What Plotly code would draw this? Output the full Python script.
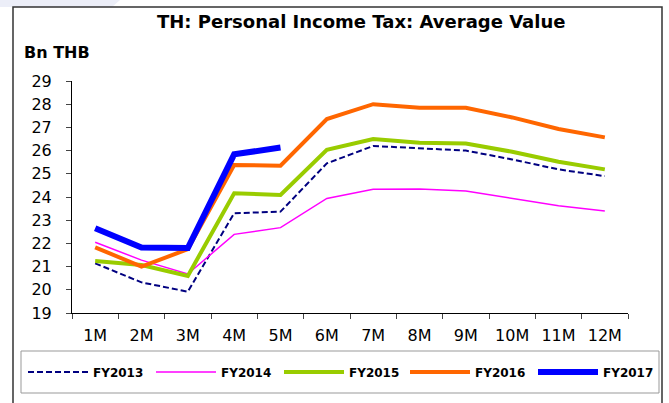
import plotly.graph_objects as go

months = ["1M", "2M", "3M", "4M", "5M", "6M", "7M", "8M", "9M", "10M", "11M", "12M"]

fy2013 = [21.14, 20.32, 19.92, 23.30, 23.37, 25.45, 26.20, 26.10, 26.00, 25.62, 25.19, 24.90]
fy2014 = [22.05, 21.28, 20.68, 22.39, 22.68, 23.94, 24.33, 24.34, 24.26, 23.94, 23.62, 23.40]
fy2015 = [21.24, 21.07, 20.60, 24.16, 24.09, 26.03, 26.50, 26.34, 26.31, 25.95, 25.52, 25.19]
fy2016 = [21.83, 21.00, 21.75, 25.38, 25.35, 27.36, 28.00, 27.85, 27.85, 27.43, 26.93, 26.57]
fy2017 = [22.65, 21.82, 21.80, 25.84, 26.13]

# name, values, colour, width, dash, legend group (split in two so one row fits)
series = [
    ("FY2013", fy2013, "#000080", 2, "6px,3px", "legend"),
    ("FY2014", fy2014, "#ff00ff", 1.5, "solid", "legend"),
    ("FY2015", fy2015, "#99cc00", 4, "solid", "legend"),
    ("FY2016", fy2016, "#ff6600", 4, "solid", "legend2"),
    ("FY2017", fy2017, "#0000ff", 6, "solid", "legend2"),
]

fig = go.Figure()
for name, vals, color, width, dash, leg in series:
    fig.add_trace(go.Scatter(
        x=months[:len(vals)], y=vals, name=name, mode="lines",
        line=dict(color=color, width=width, dash=dash), legend=leg,
    ))

font_family = "DejaVu Sans, Liberation Sans, Arial, sans-serif"

# plot area geometry in pixels (for paper-coordinate decorations)
W, H = 669, 403
ml, mr, mt, mb = 72, 41, 81, 90
pw, ph = W - ml - mr, H - mt - mb


def px(x):
    return (x - ml) / pw


def py(y):
    return (H - mb - y) / ph


shapes = [
    # faint slide decoration in the top-left corner
    dict(type="path", xref="paper", yref="paper",
         path=f"M {px(0)},{py(0)} L {px(120)},{py(0)} L {px(112)},{py(7)} L {px(0)},{py(7)} Z",
         fillcolor="#eceef8", line=dict(width=0), layer="below"),
    # outer chart frame
    dict(type="rect", xref="paper", yref="paper",
         x0=px(13), x1=px(662), y0=py(412), y1=py(7),
         line=dict(color="#333333", width=1.5), fillcolor="rgba(0,0,0,0)"),
    # legend frame
    dict(type="rect", xref="paper", yref="paper",
         x0=px(21), x1=px(659), y0=py(393), y1=py(351),
         line=dict(color="#999999", width=1), fillcolor="rgba(0,0,0,0)"),
]

legend_style = dict(
    orientation="h", yanchor="middle", y=py(372), xanchor="left",
    font=dict(size=12, family=font_family, color="black", weight="bold"),
    entrywidth=53, entrywidthmode="pixels", itemwidth=60,
    bgcolor="rgba(0,0,0,0)", traceorder="normal",
)

fig.update_layout(
    width=W, height=H,
    margin=dict(l=ml, r=mr, t=mt, b=mb, autoexpand=False),
    paper_bgcolor="white", plot_bgcolor="white",
    font=dict(family=font_family, color="black", size=16),
    showlegend=True,
    legend=dict(legend_style, x=px(23)),
    legend2=dict(legend_style, x=px(405)),
    shapes=shapes,
    annotations=[
        dict(text="<b>TH: Personal Income Tax: Average Value</b>", xref="paper", yref="paper",
             x=px(361), y=py(21), xanchor="center", yanchor="middle", showarrow=False,
             font=dict(size=18, family=font_family)),
        dict(text="<b>Bn THB</b>", xref="paper", yref="paper",
             x=px(22), y=py(52), xanchor="left", yanchor="middle", showarrow=False,
             font=dict(size=16, family=font_family)),
    ],
)

fig.update_xaxes(
    type="category", categoryorder="array", categoryarray=months,
    range=[-0.5, 11.5], showline=True, linecolor="black", linewidth=1,
    ticks="outside", tickson="boundaries", ticklen=5, tickcolor="#444444",
    showgrid=False, zeroline=False, tickfont=dict(size=16),
    ticklabelstandoff=8,
)
fig.update_yaxes(
    range=[19, 29], dtick=1, showline=True, linecolor="black", linewidth=1,
    ticks="outside", ticklen=5, tickcolor="#444444",
    showgrid=False, zeroline=False, tickfont=dict(size=16),
    ticklabelstandoff=11,
)

fig.write_html("out.html")
